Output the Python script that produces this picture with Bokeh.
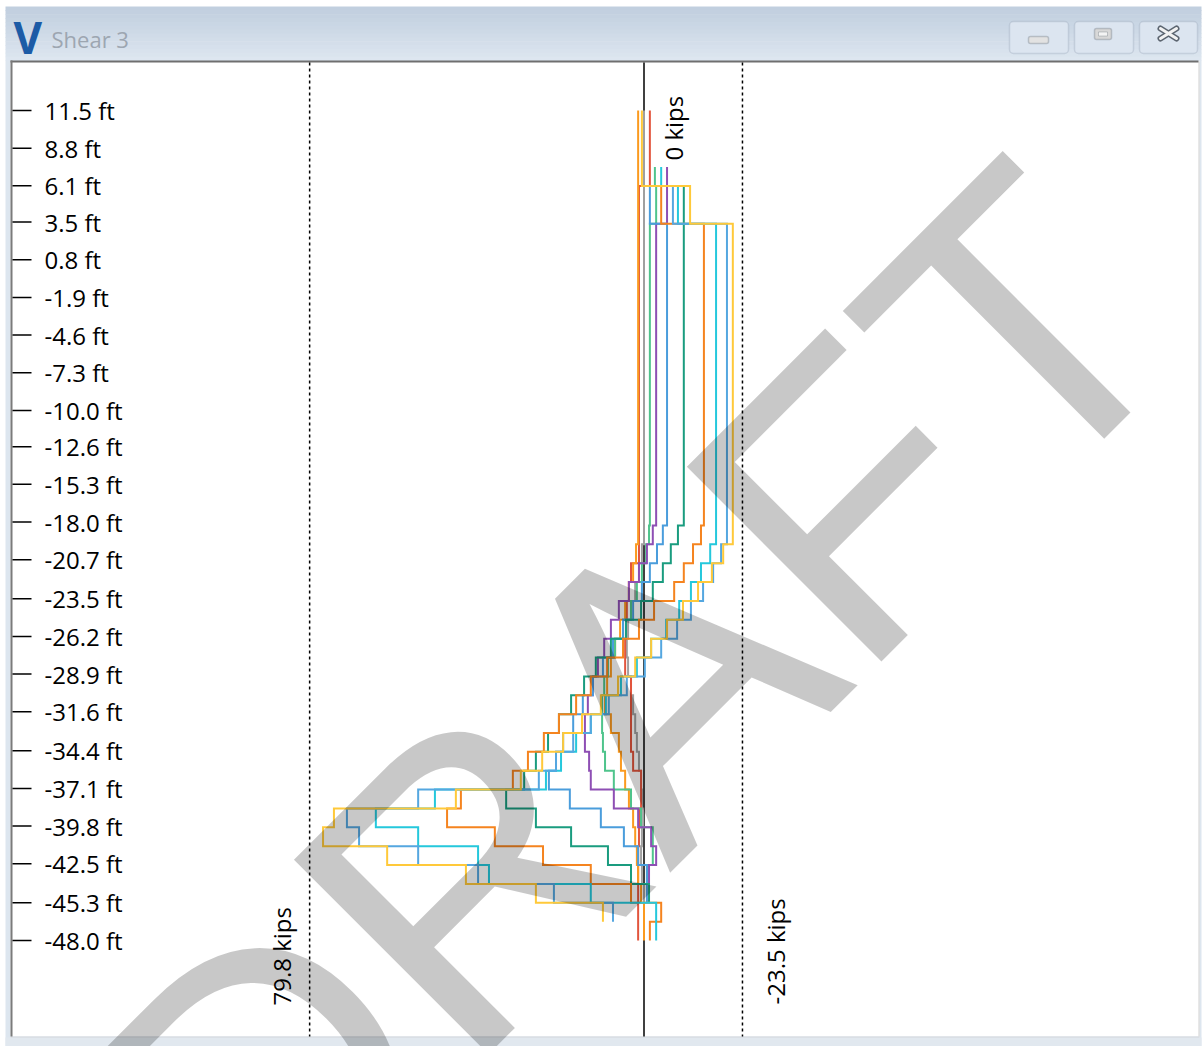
import numpy as np
from bokeh.plotting import figure
from bokeh.models import Range1d, BoxAnnotation, ColumnDataSource
from bokeh.core.properties import value
from bokeh.embed import file_html
from bokeh.resources import INLINE

# ---------------------------------------------------------------- data
# depth ticks along the pile (ft)
tick_depths = [11.5, 8.8, 6.1, 3.5, 0.8, -1.9, -4.6, -7.3, -10.0, -12.6, -15.3,
               -18.0, -20.7, -23.5, -26.2, -28.9, -31.6, -34.4, -37.1, -39.8,
               -42.5, -45.3, -48.0]
tick_labels = ["11.5 ft", "8.8 ft", "6.1 ft", "3.5 ft", "0.8 ft", "-1.9 ft", "-4.6 ft",
               "-7.3 ft", "-10.0 ft", "-12.6 ft", "-15.3 ft", "-18.0 ft", "-20.7 ft",
               "-23.5 ft", "-26.2 ft", "-28.9 ft", "-31.6 ft", "-34.4 ft", "-37.1 ft",
               "-39.8 ft", "-42.5 ft", "-45.3 ft", "-48.0 ft"]

# pile segments: 44 layers between the top and the tip
pile_top, pile_tip, n_layers = 11.5, -48.0, 44

# envelope of the shear (kips)
env_max = 79.8
env_min = -23.5

# shear per layer (kips) for each load case; the first value belongs to layer `start`
shear_yellow = [0.5, 0.5, 0.5, 0.5, -11.0, -11.0,
                -21.2, -21.2, -21.2, -21.2, -21.2, -21.2, -21.2, -21.2, -21.2, -21.2, -21.2,
                -21.2, -21.2, -21.2, -21.2, -21.2, -21.2,
                -18.9, -16.2, -12.9, -9.3, -5.5, -1.7, 2.1, 6.2, 10.3, 14.8, 19.3, 24.3, 29.4,
                44.9, 74.0, 76.6, 61.3, 42.5, 25.8, 9.8]
start_yellow = 0

shear_blue = [-6.9, -6.9,
              -19.8, -19.8, -19.8, -19.8, -19.8, -19.8, -19.8, -19.8, -19.8, -19.8, -19.8,
              -19.8, -19.8, -19.8, -19.8, -19.8, -19.8,
              -18.4, -16.5, -14.1, -11.2, -7.9, -4.1, -0.2, 4.1, 8.4, 12.7, 16.9, 21.0, 25.1,
              53.9, 70.9, 68.0, 53.9, 39.6, 21.5, 7.4]
start_blue = 4

shear_cyan = [-4.1, -8.1, -8.1,
              -17.2, -17.2, -17.2, -17.2, -17.2, -17.2, -17.2, -17.2, -17.2, -17.2, -17.2,
              -17.2, -17.2, -17.2, -17.2, -17.2, -17.2,
              -15.8, -13.6, -11.2, -8.4, -5.3, -1.7, 1.7, 5.5, 9.1, 12.7, 16.2, 19.8, 23.4,
              49.9, 64.0, 53.9, 39.6, 37.0, 12.7, -2.9, -2.9]
start_cyan = 3

shear_orange = [-4.1, -4.1,
                -14.3, -14.3, -14.3, -14.3, -14.3, -14.3, -14.3, -14.3, -14.3, -14.3, -14.3,
                -14.3, -14.3, -14.3, -14.3, -14.3,
                -13.6, -11.7, -9.5, -7.2, -2.4, 1.2, 5.0, 8.8, 12.7, 16.2, 20.3, 23.9, 27.7,
                31.3, 43.7, 47.0, 35.6, 24.1, 12.7, 3.1, -4.1, -1.4]
start_orange = 4

shear_teal = [-9.5, -9.5, -9.5, -9.5, -9.5, -9.5, -9.5, -9.5, -9.5, -9.5, -9.5, -9.5,
              -9.5, -9.5, -9.5, -9.5, -9.5, -9.5,
              -8.1, -6.4, -4.5, -2.1, 0.7, 4.3, 7.9, 11.5, 14.3, 17.4, 20.3, 22.9, 25.8,
              28.6, 32.9, 25.8, 17.4, 8.6, 3.1, -1.2]
start_teal = 4

shear_steel = [-1.4, -1.4,
               -5.5, -5.5, -5.5, -5.5, -5.5, -5.5, -5.5, -5.5, -5.5, -5.5, -5.5, -5.5,
               -5.5, -5.5, -5.5, -5.5,
               -4.5, -3.1, -1.4, 0.5, 2.6, 5.0, 7.4, 9.8, 12.2, 14.6, 16.9, 19.3, 21.0,
               22.7, 17.7, 10.3, 4.8, 1.4, -0.7, -0.7]
start_steel = 4

shear_purple = [-5.5, -5.5, -5.5,
                -2.9, -2.9, -2.9, -2.9, -2.9, -2.9, -2.9, -2.9, -2.9, -2.9, -2.9, -2.9,
                -2.9, -2.9, -2.9, -2.9,
                -2.1, -0.7, 1.2, 3.6, 6.0, 7.9, 9.5, 11.0, 12.2, 13.4, 14.1, 14.1, 13.1,
                12.7, 7.2, 1.4, -1.7, -2.9, -1.2]
start_purple = 3

shear_green = [-2.6, -2.9, -2.9,
               -1.4, -1.4, -1.4, -1.4, -1.4, -1.4, -1.4, -1.4, -1.4, -1.4, -1.4, -1.4,
               -1.4, -1.4, -1.4, -1.4,
               -1.2, -0.5, 0.5, 1.7, 3.1, 5.0, 6.9, 8.6, 9.5, 10.0, 10.0, 9.8, 9.3,
               7.2, 3.1, 0.7, -2.1, -2.1, -0.7]
start_green = 3

shear_gray = [0.0, 0.0, 0.0, 0.0, 0.0, 0.0, 0.0, 0.0, 0.0, 0.0, 0.0, 0.0, 0.0, 0.0,
              0.0, 0.0, 0.0, 0.0, 0.0, 0.0, 0.0, 0.0, 0.0,
              0.5, 1.2, 2.1, 3.1, 3.8, 4.1, 3.8, 3.1, 2.6, 2.1, 1.7, 1.2, 0.7, 0.5, 0.2,
              0.5, 0.7, 0.5, 0.0, 0.0]
start_gray = 0

shear_amber = [1.4, 1.4, 1.4, 1.4, 1.4, 1.4, 1.4, 1.4, 1.4, 1.4, 1.4, 1.4, 1.4, 1.4,
               1.4, 1.4, 1.4, 1.4, 1.4, 1.4, 1.4, 1.4, 1.4,
               1.9, 2.6, 3.6, 4.5, 5.7, 6.9, 7.9, 8.8, 9.3, 7.9, 6.0, 5.5, 4.5, 3.6, 2.6,
               2.1, 1.7, 1.4, 0.7, 0.0, 0.0]
start_amber = 0

shear_red = [-1.4, -1.4, -1.4, -1.4,
             1.2, 1.2, 1.2, 1.2, 1.2, 1.2, 1.2, 1.2, 1.2, 1.2, 1.2, 1.2, 1.2, 1.2, 1.2,
             1.2, 1.2, 1.2, 1.2,
             1.2, 3.1, 3.6, 4.1, 4.3, 4.5, 4.5, 3.1, 3.1, 3.1, 3.1, 2.6, 0.7, 0.7, 1.0,
             1.2, 1.4, 1.4, 1.4, 1.4, 1.4]
start_red = 0

cases = [
    (shear_gray, start_gray, "#a0a0a0"),
    (shear_red, start_red, "#e2553d"),
    (shear_amber, start_amber, "#fb9a1f"),
    (shear_green, start_green, "#4fc48c"),
    (shear_purple, start_purple, "#8e4fb4"),
    (shear_steel, start_steel, "#4a9ddc"),
    (shear_teal, start_teal, "#1a9c7f"),
    (shear_orange, start_orange, "#f5841f"),
    (shear_cyan, start_cyan, "#25c8dc"),
    (shear_blue, start_blue, "#55a7e0"),
    (shear_yellow, start_yellow, "#ffc93a"),
]

# ---------------------------------------------------------------- figure
W, H = 1203, 1046
PX_PER_KIP = 4.19          # horizontal scale
PX_PER_FT = 830 / 59.5     # vertical scale
ZERO_X = 643.5             # pixel column of 0 kips
TOP_Y = 110                # pixel row of the top tick

x_left = ZERO_X / PX_PER_KIP
x_right = (ZERO_X - W) / PX_PER_KIP
y_top = tick_depths[0] + TOP_Y / PX_PER_FT
y_bottom = y_top - H / PX_PER_FT

p = figure(width=W, height=H,
           x_range=Range1d(x_left, x_right), y_range=Range1d(y_bottom, y_top),
           toolbar_location=None, output_backend="svg", min_border=0,
           x_axis_location=None, y_axis_location=None,
           background_fill_color="white", border_fill_color="white",
           outline_line_color=None)
for g in p.grid:
    g.visible = False

# pixel-like ranges for the window frame
p.extra_x_ranges = {"px": Range1d(0, W)}
p.extra_y_ranges = {"py": Range1d(H, 0)}
PX = dict(x_range_name="px", y_range_name="py")

FONT = value("Open Sans")

# window frame -------------------------------------------------------------
c0 = np.array([0xc1, 0xcf, 0xdf])
c1 = np.array([0xdd, 0xe6, 0xf0])
n_bands = 14
bar_top, bar_bot = 6, 60
for i in range(n_bands):
    t = i / (n_bands - 1)
    r, g_, b = (c0 + (c1 - c0) * t).astype(int)
    y0 = bar_top + (bar_bot - bar_top) * i / n_bands
    y1 = bar_top + (bar_bot - bar_top) * (i + 1) / n_bands + 0.6
    p.quad(left=[5], right=[1201], top=[y0], bottom=[y1],
           fill_color=f"#{r:02x}{g_:02x}{b:02x}", line_color=None, **PX)

# side and bottom strips of the window
p.quad(left=[5], right=[10], top=[60], bottom=[1046], fill_color="#dde6ef", line_color=None, **PX)
p.quad(left=[1199], right=[1201], top=[60], bottom=[1046], fill_color="#dde6ef", line_color=None, **PX)
p.quad(left=[5], right=[1201], top=[1037], bottom=[1046], fill_color="#e1e8ef", line_color=None, **PX)
p.segment(x0=[10], y0=[1036.5], x1=[1199], y1=[1036.5], line_color="#c3cbd4", line_width=1, **PX)
p.segment(x0=[1198.5], y0=[61], x1=[1198.5], y1=[1036], line_color="#d0d0d0", line_width=1, **PX)
p.segment(x0=[10], y0=[61], x1=[1198], y1=[61], line_color="#6f6f6f", line_width=2, **PX)
p.segment(x0=[11], y0=[60], x1=[11], y1=[1036], line_color="#7b7b7b", line_width=2, **PX)

# title
p.text(x=[13], y=[36.5], text=["V"], text_font=FONT, text_font_style="bold",
       text_font_size="44px", text_color="#1c5ba6", text_baseline="middle", **PX)
p.text(x=[51], y=[38], text=["Shear 3"], text_font=FONT, text_font_size="22px",
       text_color="#9da6b1", text_baseline="middle", **PX)

# window buttons
for left, right in [(1009, 1068), (1074, 1133), (1139, 1197)]:
    p.add_layout(BoxAnnotation(left=left, right=right, top=21, bottom=53,
                               fill_color="#dce5f0", fill_alpha=1,
                               line_color="#8d9bae", line_width=1.5,
                               border_radius=4, **PX))
p.add_layout(BoxAnnotation(left=1028, right=1048, top=36, bottom=43,
                           fill_color="#e2e2e2", fill_alpha=1, line_color="#59626d",
                           line_width=1.5, border_radius=2, **PX))
p.add_layout(BoxAnnotation(left=1094, right=1111, top=28, bottom=39,
                           fill_color="#d8d8d8", fill_alpha=1, line_color="#59626d",
                           line_width=1.5, border_radius=2, **PX))
p.add_layout(BoxAnnotation(left=1098, right=1107, top=31.5, bottom=35.5,
                           fill_color="#f4f4f4", fill_alpha=1, line_color="#59626d",
                           line_width=1, **PX))
p.segment(x0=[1160, 1160], y0=[28, 38], x1=[1176, 1176], y1=[38, 28],
          line_color="#5c6570", line_width=6, line_cap="round", level="overlay", **PX)
p.segment(x0=[1160, 1160], y0=[28, 38], x1=[1176, 1176], y1=[38, 28],
          line_color="#f2f2f2", line_width=3, line_cap="round", level="overlay", **PX)

# depth axis: ticks and labels inside the plot
p.segment(x0=[12] * len(tick_depths), x1=[31] * len(tick_depths),
          y0=tick_depths, y1=tick_depths, line_color="black", line_width=1.5,
          x_range_name="px")
p.text(x=[44] * len(tick_depths), y=tick_depths, text=tick_labels, text_font=FONT,
       text_font_size="24px", text_color="black", text_baseline="middle",
       x_range_name="px")

# zero line and envelope limits
p.segment(x0=[0], x1=[0], y0=[62], y1=[1036], line_color="black", line_width=1.5,
          y_range_name="py")
p.segment(x0=[env_max, env_min], x1=[env_max, env_min], y0=[62, 62], y1=[1036, 1036],
          line_color="black", line_width=1.5, line_dash="3 3", y_range_name="py")

# rotated value labels
for val, dx, y_start in [(0, 29, 160), (env_max, -28, 1005), (env_min, 33, 1004)]:
    txt = "0 kips" if val == 0 else f"{val} kips"
    p.text(x=[val], y=[y_start], text=[txt], angle=np.pi / 2, x_offset=dx,
           text_font=FONT, text_font_size="24px", text_color="black",
           text_align="left", text_baseline="middle", y_range_name="py")

# shear diagrams as step lines
bounds = np.linspace(pile_top, pile_tip, n_layers + 1)
xs, ys, colors = [], [], []
for vals, start, col in cases:
    lx, ly = [], []
    for i, v in enumerate(vals):
        k = start + i
        lx += [v, v]
        ly += [bounds[k], bounds[k + 1]]
    xs.append(lx)
    ys.append(ly)
    colors.append(col)
src = ColumnDataSource(dict(xs=xs, ys=ys, color=colors))
p.multi_line(xs="xs", ys="ys", line_color="color", line_width=2, line_join="miter", source=src)

# watermark
p.text(x=[634], y=[712], text=["DRAFT"], angle=np.pi / 4, text_font=value("Liberation Sans"),
       text_font_size="400px", text_color="black", text_alpha=0.215,
       text_align="center", text_baseline="middle", **PX)

open("out.html", "w").write(file_html(p, INLINE))
